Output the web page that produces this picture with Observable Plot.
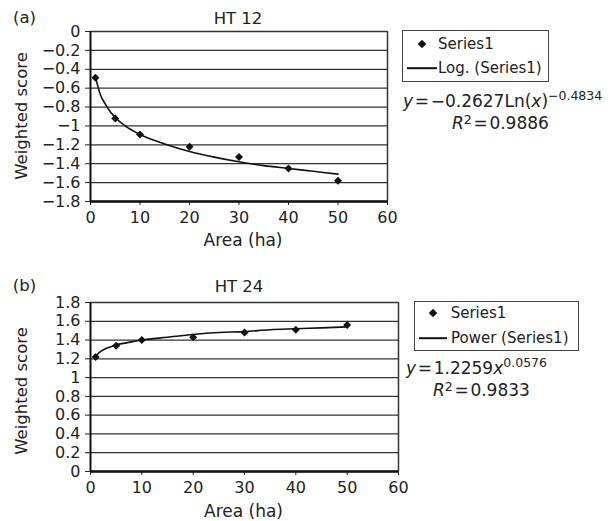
<!DOCTYPE html>
<html><head><meta charset="utf-8">
<script src="https://cdn.jsdelivr.net/npm/d3@7"></script>
<script src="https://cdn.jsdelivr.net/npm/@observablehq/plot@0.6"></script>
<style>
body{margin:0;background:#fff;}
#wrap{position:relative;width:611px;height:521px;font-family:"DejaVu Sans",sans-serif;color:#222;overflow:hidden;}
#wrap svg{position:absolute;left:0;}
.t{position:absolute;white-space:nowrap;line-height:1;}
.c{transform:translate(-50%,-50%);}
.l{transform:translate(0,-50%);}
.rot{transform:translate(-50%,-50%) rotate(-90deg);}
.box{position:absolute;border:1.3px solid #444;box-sizing:border-box;}
.dia{position:absolute;width:6px;height:6px;background:#111;transform:translate(-50%,-50%) rotate(45deg);}
.ln{position:absolute;height:1.6px;background:#111;transform:translateY(-50%);}
sup{font-size:12.5px;vertical-align:0;position:relative;top:-7px;line-height:1;}
sup.r{top:-5.5px;}
</style>
</head><body>
<div id="wrap"></div>
<script>
// ---- data ----
const areas = [1, 5, 10, 20, 30, 40, 50];
const ht12Scores = [-0.49, -0.92, -1.09, -1.22, -1.33, -1.45, -1.58];
const ht24Scores = [1.22, 1.34, 1.40, 1.43, 1.48, 1.51, 1.56];
const trendAreas = [1, 2, 3, 4, 5, 7, 10, 15, 20, 25, 30, 35, 40, 45, 50];
const ht12Trend = [-0.48, -0.67, -0.77, -0.85, -0.91, -1.00, -1.09, -1.19, -1.27, -1.33, -1.38, -1.42, -1.45, -1.48, -1.51];
const ht24Trend = [1.23, 1.28, 1.31, 1.33, 1.35, 1.37, 1.40, 1.43, 1.46, 1.48, 1.49, 1.51, 1.52, 1.53, 1.54];
const xTicks = [0, 10, 20, 30, 40, 50, 60];
const ht12YTicks = [0, -0.2, -0.4, -0.6, -0.8, -1, -1.2, -1.4, -1.6, -1.8];
const ht24YTicks = [0, 0.2, 0.4, 0.6, 0.8, 1, 1.2, 1.4, 1.6, 1.8];

const fmt = d => String(d).replace("-", "\u2212");

function panel({scores, trend, yDomain, yTicks, height, marginTop, marginBottom, marginRight}) {
  const pts = areas.map((a, i) => ({x: a, y: scores[i]}));
  const tr = trendAreas.map((a, i) => ({x: a, y: trend[i]}));
  return Plot.plot({
    width: 611, height, marginLeft: 90, marginRight, marginTop, marginBottom,
    style: {fontFamily: "DejaVu Sans, sans-serif", fontSize: "16px", color: "#222", background: "transparent", overflow: "visible"},
    x: {domain: [0, 60], ticks: xTicks, tickSize: 4, tickPadding: 6, label: null, tickFormat: fmt},
    y: {domain: yDomain, ticks: yTicks, tickSize: 5, tickPadding: 5, label: null, tickFormat: fmt},
    marks: [
      Plot.ruleY(yTicks, {stroke: "#333", strokeWidth: 1.3}),
      Plot.ruleX([60], {stroke: "#333", strokeWidth: 1.5}),
      Plot.ruleX([0], {stroke: "#111", strokeWidth: 2}),
      Plot.ruleY([yDomain[0]], {stroke: "#111", strokeWidth: 2.5}),
      Plot.line(tr, {x: "x", y: "y", stroke: "#111", strokeWidth: 1.6, curve: "monotone-x"}),
      Plot.dot(pts, {x: "x", y: "y", symbol: "diamond2", r: 3.6, fill: "#111", stroke: "none"})
    ]
  });
}

const wrap = document.getElementById("wrap");
const p1 = panel({scores: ht12Scores, trend: ht12Trend, yDomain: [-1.8, 0], yTicks: ht12YTicks,
  height: 245, marginTop: 31, marginBottom: 44, marginRight: 224});
p1.style.top = "0px";
wrap.appendChild(p1);
const p2 = panel({scores: ht24Scores, trend: ht24Trend, yDomain: [0, 1.8], yTicks: ht24YTicks,
  height: 271, marginTop: 52, marginBottom: 50, marginRight: 213});
p2.style.top = "250px";
wrap.appendChild(p2);

function add(html, cls, x, y, size, extra) {
  const d = document.createElement("div");
  d.className = "t " + cls;
  d.style.left = x + "px"; d.style.top = y + "px";
  d.style.fontSize = size + "px";
  if (extra) Object.assign(d.style, extra);
  d.innerHTML = html;
  wrap.appendChild(d);
}
function el(cls, style) {
  const d = document.createElement("div");
  d.className = cls; Object.assign(d.style, style); wrap.appendChild(d);
}

// panel (a)
add("(a)", "c", 24.5, 18, 16.5);
add("HT 12", "c", 238, 19, 16.5);
add("Weighted score", "rot", 21.5, 116, 16.5);
add("Area (ha)", "c", 243, 240, 17);
el("box", {left: "401.7px", top: "30px", width: "147.3px", height: "51.7px"});
el("dia", {left: "422px", top: "44px"});
add("Series1", "l", 438, 44, 15);
el("ln", {left: "407px", top: "68px", width: "30px"});
add("Log. (Series1)", "l", 438, 68, 15);
add("<i>y</i>\u200A=\u200A\u22120.2627Ln(<i>x</i>)<sup>\u22120.4834</sup>", "", 403, 93, 17);
add("<i>R</i><sup class='r'>2</sup>\u200A=\u200A0.9886", "", 452, 115, 17);

// panel (b)
add("(b)", "c", 24.5, 286, 16.5);
add("HT 24", "c", 239, 287, 16.5);
add("Weighted score", "rot", 21.5, 391, 16.5);
add("Area (ha)", "c", 243.5, 511, 17);
el("box", {left: "413.7px", top: "300.7px", width: "165.3px", height: "50px"});
el("dia", {left: "433.3px", top: "313.3px"});
add("Series1", "l", 450.7, 313, 15);
el("ln", {left: "419px", top: "338px", width: "28px"});
add("Power (Series1)", "l", 451, 338, 15);
add("<i>y</i>\u200A=\u200A1.2259<i>x</i><sup>0.0576</sup>", "", 406, 360, 17);
add("<i>R</i><sup class='r'>2</sup>\u200A=\u200A0.9833", "", 433, 382, 17);
</script>
</body></html>
